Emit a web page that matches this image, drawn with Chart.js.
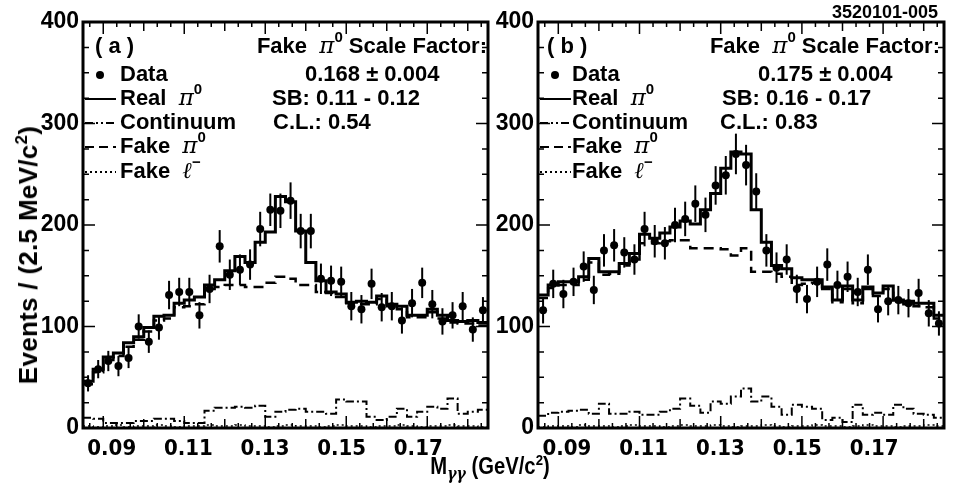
<!DOCTYPE html>
<html>
<head>
<meta charset="utf-8">
<script src="https://cdn.jsdelivr.net/npm/chart.js@4.4.1/dist/chart.umd.min.js"></script>
<style>
  body { margin: 0; background: #fff; }
  #wrap { position: relative; width: 958px; height: 490px; font-family: 'Liberation Sans', Arial, sans-serif; font-weight: bold; color: #000; }
  canvas { position: absolute; top: 0; }
  #cA { left: 0; }
  #cB { left: 490px; }
  .lbl { position: absolute; white-space: nowrap; line-height: 1; }
  #ytitle { left: 28px; top: 255px; font-size: 26px; letter-spacing: 0.3px; transform: translate(-50%, -50%) rotate(-90deg); }
  #xtitle { left: 490px; top: 466px; font-size: 23px; transform: translate(-50%, -50%) scaleX(0.88); }
  #code { right: 20px; top: 3px; font-size: 18px; }
  sup { font-size: 65%; vertical-align: 0.6em; line-height: 0; }
  sub { font-size: 70%; vertical-align: -0.35em; line-height: 0; font-style: italic; font-family: 'DejaVu Serif', serif; }
</style>
</head>
<body>
<div id="wrap">
  <canvas id="cA" width="495" height="490"></canvas>
  <canvas id="cB" width="468" height="490"></canvas>
  <div class="lbl" id="ytitle">Events / (2.5 MeV/c<sup>2</sup>)</div>
  <div class="lbl" id="xtitle">M<sub>γγ</sub> (GeV/c<sup>2</sup>)</div>
  <div class="lbl" id="code">3520101-005</div>
</div>
<script>
// binning: 2.5 MeV bins from 0.085 to 0.185 GeV
const binLo = 0.085;
const binWidth = 0.0025;
const xTicks = [0.09, 0.11, 0.13, 0.15, 0.17];
const yTicks = [0, 100, 200, 300, 400];
// the printed labels sit a little tighter than the tick marks in the original
const labelMin = 0.0825;
const labelMax = 0.1882;

// panel (a)
const dataA = [44, 58, 66, 61, 69, 100, 85, 99, 131, 134, 134, 111, 137, 179, 151, 156, 161, 196, 215, 214,
               224, 194, 194, 147, 145, 144, 120, 117, 142, 119, 120, 106, 123, 143, 122, 105, 111, 120, 97, 116];
const errA = [8, 9, 10, 10, 10, 12, 11, 12, 14, 14, 14, 13, 14, 16, 15, 15, 15, 17, 16, 17,
              18, 17, 17, 15, 15, 15, 14, 14, 15, 14, 14, 13, 14, 15, 14, 13, 13, 14, 12, 13];
const realA = [46, 58, 70, 74, 84, 90, 99, 110, 111, 123, 126, 129, 141, 146, 155, 169, 163, 183, 193, 228,
               223, 194, 163, 145, 134, 132, 124, 125, 124, 130, 122, 120, 111, 111, 117, 111, 106, 105, 106, 104];
const fakePiA = [43, 55, 67, 71, 80, 87, 95, 106, 108, 119, 120, 122, 137, 139, 141, 141, 139, 139, 143, 149,
                 147, 141, 141, 134, 133, 129, 123, 122, 122, 127, 120, 117, 109, 109, 114, 108, 104, 103, 103, 101];
const contA = [10, 9, 5, 5, 5, 7, 7, 9, 9, 7, 5, 5, 17, 20, 20, 21, 20, 22, 11, 16,
               18, 19, 16, 16, 14, 28, 26, 26, 11, 8, 11, 19, 11, 16, 21, 19, 29, 14, 16, 18];
const fakeLepA = [2, 1, 2, 3, 1, 2, 2, 3, 2, 1, 2, 2, 3, 2, 2, 3, 2, 2, 1, 2,
                  3, 2, 2, 1, 2, 3, 2, 2, 1, 2, 2, 3, 2, 1, 2, 2, 3, 2, 2, 1];

// panel (b)
const dataB = [116, 142, 132, 144, 159, 136, 175, 180, 173, 166, 196, 184, 182, 200, 206, 221, 210, 239, 249, 270,
               259, 233, 175, 158, 166, 137, 127, 144, 161, 141, 149, 134, 156, 117, 125, 126, 123, 133, 113, 103];
const errB = [13, 14, 14, 14, 15, 14, 16, 16, 15, 15, 17, 16, 16, 17, 17, 18, 17, 19, 19, 20,
              20, 18, 16, 15, 15, 14, 14, 15, 16, 14, 15, 14, 15, 13, 14, 14, 14, 14, 13, 12];
const realB = [131, 141, 144, 144, 149, 167, 154, 154, 162, 172, 191, 187, 192, 198, 204, 201, 215, 231, 256, 272,
               270, 215, 183, 160, 157, 148, 146, 146, 139, 126, 140, 126, 139, 133, 140, 126, 125, 123, 123, 111];
const fakePiB = [128, 138, 141, 141, 146, 163, 151, 152, 160, 166, 182, 182, 184, 185, 185, 177, 177, 177, 176, 170,
                 177, 154, 154, 152, 149, 141, 142, 143, 137, 124, 137, 123, 137, 130, 137, 124, 122, 120, 119, 108];
const contB = [12, 15, 16, 17, 18, 14, 24, 14, 14, 16, 13, 13, 16, 19, 29, 22, 15, 26, 24, 31,
               39, 26, 31, 21, 13, 23, 21, 19, 8, 10, 6, 23, 13, 15, 13, 23, 19, 14, 13, 10];
const fakeLepB = [1, 2, 2, 1, 3, 2, 2, 1, 2, 3, 2, 2, 1, 2, 3, 2, 2, 3, 2, 1,
                  2, 2, 3, 2, 1, 2, 2, 3, 2, 2, 1, 2, 3, 2, 2, 1, 2, 2, 3, 2];

const F = "bold 22px 'Liberation Sans', Arial, sans-serif";
const FI = "italic 23px 'DejaVu Serif', serif";
const FS = "bold 15px 'Liberation Sans', Arial, sans-serif";
const pi0 = [{ t: 'π', f: FI }, { t: '0', f: FS, dy: -9 }];
const ell = [{ t: 'ℓ', f: FI }, { t: '−', f: FS, dy: -9 }];

// histogram outline: left bin edges + closing right edge, drawn with stepped lines
function steps(vals) {
  const pts = vals.map((v, i) => ({ x: binLo + i * binWidth, y: v }));
  pts.push({ x: binLo + vals.length * binWidth, y: vals[vals.length - 1] });
  return pts;
}
function centers(vals) {
  return vals.map((v, i) => ({ x: binLo + (i + 0.5) * binWidth, y: v }));
}

function rich(ctx, segs, x, y, align) {
  let w = 0;
  segs.forEach(s => { ctx.font = s.f; w += ctx.measureText(s.t).width; });
  let cx = align === 'right' ? x - w : x;
  ctx.textAlign = 'left';
  ctx.textBaseline = 'middle';
  segs.forEach(s => {
    ctx.font = s.f;
    ctx.fillText(s.t, cx, y + (s.dy || 0));
    cx += ctx.measureText(s.t).width;
  });
}

const panelPlugin = {
  id: 'panel',
  afterDatasetsDraw(chart, args, opts) {
    const ctx = chart.ctx, xs = chart.scales.x, ys = chart.scales.y;
    ctx.save();
    ctx.strokeStyle = '#000';
    ctx.lineWidth = 2;
    opts.values.forEach((v, i) => {
      const px = xs.getPixelForValue(binLo + (i + 0.5) * binWidth);
      ctx.beginPath();
      ctx.moveTo(px, ys.getPixelForValue(v - opts.errors[i]));
      ctx.lineTo(px, ys.getPixelForValue(v + opts.errors[i]));
      ctx.stroke();
    });
    ctx.restore();
  },
  afterDraw(chart, args, opts) {
    const ctx = chart.ctx, xs = chart.scales.x, ys = chart.scales.y, a = chart.chartArea;
    const L = a.left, R = a.right;
    ctx.save();
    ctx.strokeStyle = '#000';
    ctx.fillStyle = '#000';
    // ticks inside the frame
    ctx.lineWidth = 1.5;
    const sub = 0.02 / 6;
    for (let k = -3; k <= 36; k++) {
      const v = 0.09 + k * sub;
      if (v < xs.min - 1e-9 || v > xs.max + 1e-9) continue;
      const len = k % 6 === 0 ? 12 : (k % 3 === 0 ? 9 : 5);
      const px = xs.getPixelForValue(v);
      ctx.beginPath();
      ctx.moveTo(px, a.bottom); ctx.lineTo(px, a.bottom - len);
      ctx.moveTo(px, a.top); ctx.lineTo(px, a.top + len);
      ctx.stroke();
    }
    for (let v = 0; v <= 400; v += 25) {
      const len = v % 100 === 0 ? 12 : 6;
      const py = ys.getPixelForValue(v);
      ctx.beginPath();
      ctx.moveTo(L, py); ctx.lineTo(L + len, py);
      ctx.moveTo(R, py); ctx.lineTo(R - len, py);
      ctx.stroke();
    }
    ctx.lineWidth = 3;
    ctx.strokeRect(L, a.top, R - L, a.bottom - a.top);

    // legend
    rich(ctx, [{ t: opts.tag, f: F }], L + opts.tagX, 47);
    const rows = [75, 99, 123, 147, 172];
    ctx.beginPath();
    ctx.arc(L + 17, rows[0], 4, 0, Math.PI * 2);
    ctx.fill();
    const sym = (y, dash, lw) => {
      ctx.save();
      ctx.lineWidth = lw;
      ctx.setLineDash(dash);
      ctx.beginPath();
      ctx.moveTo(L + 2, y); ctx.lineTo(L + 33, y);
      ctx.stroke();
      ctx.restore();
    };
    sym(rows[1], [], 2);
    sym(rows[2], [8, 3, 2, 3, 2, 3], 2);
    sym(rows[3], [9, 5], 2);
    sym(rows[4], [2, 3], 2);
    const tx = L + opts.textX;
    rich(ctx, [{ t: 'Data', f: F }], tx, rows[0]);
    rich(ctx, [{ t: 'Real  ', f: F }, ...pi0], tx, rows[1]);
    rich(ctx, [{ t: 'Continuum', f: F }], tx, rows[2]);
    rich(ctx, [{ t: 'Fake  ', f: F }, ...pi0], tx, rows[3]);
    rich(ctx, [{ t: 'Fake  ', f: F }, ...ell], tx, rows[4]);

    rich(ctx, [{ t: 'Fake  ', f: F }, ...pi0, { t: ' Scale Factor:', f: F }], R - opts.rightPad, 47, 'right');
    rich(ctx, [{ t: opts.factor, f: F }], L + opts.factorX, rows[0]);
    rich(ctx, [{ t: opts.sb, f: F }], L + opts.sbX, rows[1]);
    rich(ctx, [{ t: opts.cl, f: F }], L + opts.clX, rows[2]);
    ctx.restore();
  }
};

function makeChart(id, yWidth, padRight, series, text) {
  const ctx = document.getElementById(id).getContext('2d');
  return new Chart(ctx, {
    data: {
      datasets: [
        { type: 'scatter', label: 'Data', data: centers(series.data), pointRadius: 4,
          pointBackgroundColor: '#000', pointBorderColor: '#000', pointBorderWidth: 0, order: 0 },
        { type: 'line', label: 'Real π0', data: steps(series.real), stepped: true, borderColor: '#000',
          borderWidth: 3, pointRadius: 0, fill: false, order: 1 },
        { type: 'line', label: 'Fake π0', data: steps(series.fakePi), stepped: true, borderColor: '#000',
          borderWidth: 2.5, borderDash: [10, 6], pointRadius: 0, fill: false, order: 2 },
        { type: 'line', label: 'Continuum', data: steps(series.cont), stepped: true, borderColor: '#000',
          borderWidth: 2, borderDash: [8, 3, 2, 3], pointRadius: 0, fill: false, order: 3 },
        { type: 'line', label: 'Fake l-', data: steps(series.fakeLep), stepped: true, borderColor: '#000',
          borderWidth: 1.5, borderDash: [2, 3], pointRadius: 0, fill: false, order: 4 }
      ]
    },
    options: {
      responsive: false,
      animation: false,
      layout: { padding: { top: 22, right: padRight, left: 0, bottom: 0 } },
      plugins: {
        legend: { display: false },
        tooltip: { enabled: false },
        panel: Object.assign({ values: series.data, errors: series.err }, text)
      },
      scales: {
        x: {
          type: 'linear',
          position: 'bottom',
          min: binLo,
          max: binLo + 40 * binWidth,
          afterFit: s => { s.height = 0; },
          grid: { display: false, drawTicks: false },
          border: { display: false },
          ticks: { display: false }
        },
        xLabels: {
          type: 'linear',
          position: 'bottom',
          min: labelMin,
          max: labelMax,
          afterBuildTicks: s => { s.ticks = xTicks.map(v => ({ value: v })); },
          afterFit: s => { s.height = 62; },
          grid: { display: false, drawTicks: false },
          border: { display: false },
          ticks: {
            autoSkip: false, maxRotation: 0, padding: 8, color: '#000',
            font: { family: "'Liberation Sans Narrow', 'DejaVu Sans Condensed', 'Liberation Sans', Arial, sans-serif", size: 22, weight: 'bold' },
            callback: v => v.toFixed(2)
          }
        },
        y: {
          type: 'linear',
          min: 0,
          max: 400,
          afterBuildTicks: s => { s.ticks = yTicks.map(v => ({ value: v })); },
          afterFit: s => { s.width = yWidth; },
          grid: { display: false, drawTicks: false },
          border: { display: false },
          ticks: {
            padding: 4, color: '#000',
            font: { family: "'Liberation Sans', Arial, sans-serif", size: 23, weight: 'bold' }
          }
        }
      }
    },
    plugins: [panelPlugin]
  });
}

makeChart('cA', 83, 7,
  { data: dataA, err: errA, real: realA, fakePi: fakePiA, cont: contA, fakeLep: fakeLepA },
  { tag: '( a )', tagX: 12, textX: 37, rightPad: 1, factor: '0.168 ± 0.004', factorX: 222,
    sb: 'SB: 0.11 - 0.12', sbX: 189, cl: 'C.L.: 0.54', clX: 190 });
makeChart('cB', 48, 14,
  { data: dataB, err: errB, real: realB, fakePi: fakePiB, cont: contB, fakeLep: fakeLepB },
  { tag: '( b )', tagX: 9, textX: 34, rightPad: 4, factor: '0.175 ± 0.004', factorX: 220,
    sb: 'SB: 0.16 - 0.17', sbX: 184, cl: 'C.L.: 0.83', clX: 182 });
</script>
</body>
</html>
